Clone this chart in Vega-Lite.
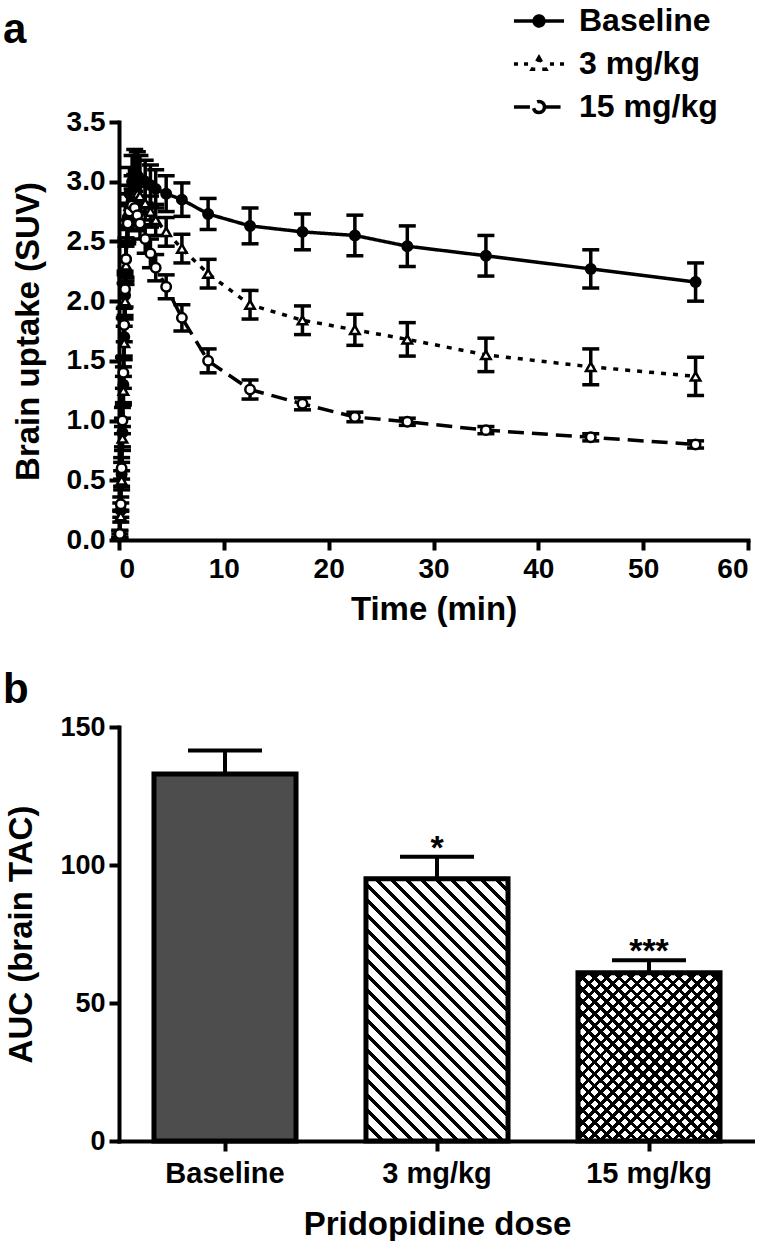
{
  "$schema": "https://vega.github.io/schema/vega-lite/v6.json",
  "background": "white",
  "padding": {"left": 3, "top": 4, "right": 0, "bottom": 0},
  "config": {
    "font": "Liberation Sans",
    "view": {"stroke": null},
    "axis": {"domainColor": "black", "domainWidth": 4, "domainCap": "square", "tickColor": "black", "tickWidth": 4, "tickSize": 10, "labelColor": "black", "titleColor": "black", "labelFontWeight": "bold", "titleFontWeight": "bold", "grid": false, "labelFontSize": 27, "titleFontSize": 33, "labelPadding": 4},
    "title": {"fontSize": 42, "fontWeight": "bold", "color": "black"},
    "concat": {"spacing": 43}
  },
  "vconcat": [
    {
      "width": 629,
      "height": 418,
      "title": {"text": "a", "anchor": "start", "frame": "group", "dx": -116, "offset": 56},
      "data": {"values": [
        {"s":"Baseline","t":0.08,"v":0.05,"lo":0.02,"hi":0.08},
        {"s":"Baseline","t":0.17,"v":0.25,"lo":0.19,"hi":0.31},
        {"s":"Baseline","t":0.25,"v":0.55,"lo":0.45,"hi":0.65},
        {"s":"Baseline","t":0.33,"v":0.9,"lo":0.78,"hi":1.02},
        {"s":"Baseline","t":0.42,"v":1.3,"lo":1.15,"hi":1.45},
        {"s":"Baseline","t":0.5,"v":1.7,"lo":1.54,"hi":1.86},
        {"s":"Baseline","t":0.58,"v":2.05,"lo":1.88,"hi":2.22},
        {"s":"Baseline","t":0.67,"v":2.35,"lo":2.17,"hi":2.53},
        {"s":"Baseline","t":0.83,"v":2.7,"lo":2.5,"hi":2.9},
        {"s":"Baseline","t":1.0,"v":2.9,"lo":2.68,"hi":3.12},
        {"s":"Baseline","t":1.25,"v":3.0,"lo":2.78,"hi":3.22},
        {"s":"Baseline","t":1.5,"v":3.05,"lo":2.83,"hi":3.27},
        {"s":"Baseline","t":1.75,"v":3.05,"lo":2.85,"hi":3.25},
        {"s":"Baseline","t":2.0,"v":3.02,"lo":2.82,"hi":3.22},
        {"s":"Baseline","t":2.5,"v":3.0,"lo":2.82,"hi":3.18},
        {"s":"Baseline","t":3.0,"v":2.97,"lo":2.8,"hi":3.14},
        {"s":"Baseline","t":3.5,"v":2.94,"lo":2.78,"hi":3.1},
        {"s":"Baseline","t":4.5,"v":2.9,"lo":2.75,"hi":3.05},
        {"s":"Baseline","t":6,"v":2.85,"lo":2.71,"hi":2.99},
        {"s":"Baseline","t":8.5,"v":2.73,"lo":2.6,"hi":2.86},
        {"s":"Baseline","t":12.5,"v":2.63,"lo":2.48,"hi":2.78},
        {"s":"Baseline","t":17.5,"v":2.58,"lo":2.43,"hi":2.73},
        {"s":"Baseline","t":22.5,"v":2.55,"lo":2.38,"hi":2.72},
        {"s":"Baseline","t":27.5,"v":2.46,"lo":2.29,"hi":2.63},
        {"s":"Baseline","t":35,"v":2.38,"lo":2.21,"hi":2.55},
        {"s":"Baseline","t":45,"v":2.27,"lo":2.11,"hi":2.43},
        {"s":"Baseline","t":55,"v":2.16,"lo":2.0,"hi":2.32},
        {"s":"3 mg/kg","t":0.08,"v":0.03,"lo":0.01,"hi":0.05},
        {"s":"3 mg/kg","t":0.17,"v":0.2,"lo":0.15,"hi":0.25},
        {"s":"3 mg/kg","t":0.25,"v":0.5,"lo":0.42,"hi":0.58},
        {"s":"3 mg/kg","t":0.33,"v":0.85,"lo":0.75,"hi":0.95},
        {"s":"3 mg/kg","t":0.42,"v":1.25,"lo":1.13,"hi":1.37},
        {"s":"3 mg/kg","t":0.5,"v":1.65,"lo":1.51,"hi":1.79},
        {"s":"3 mg/kg","t":0.58,"v":2.0,"lo":1.85,"hi":2.15},
        {"s":"3 mg/kg","t":0.67,"v":2.3,"lo":2.14,"hi":2.46},
        {"s":"3 mg/kg","t":0.83,"v":2.65,"lo":2.48,"hi":2.82},
        {"s":"3 mg/kg","t":1.0,"v":2.8,"lo":2.63,"hi":2.97},
        {"s":"3 mg/kg","t":1.25,"v":2.88,"lo":2.71,"hi":3.05},
        {"s":"3 mg/kg","t":1.5,"v":2.9,"lo":2.74,"hi":3.06},
        {"s":"3 mg/kg","t":1.75,"v":2.9,"lo":2.75,"hi":3.05},
        {"s":"3 mg/kg","t":2.0,"v":2.88,"lo":2.73,"hi":3.03},
        {"s":"3 mg/kg","t":2.5,"v":2.82,"lo":2.68,"hi":2.96},
        {"s":"3 mg/kg","t":3.0,"v":2.75,"lo":2.62,"hi":2.88},
        {"s":"3 mg/kg","t":3.5,"v":2.68,"lo":2.55,"hi":2.81},
        {"s":"3 mg/kg","t":4.5,"v":2.58,"lo":2.46,"hi":2.7},
        {"s":"3 mg/kg","t":6,"v":2.44,"lo":2.32,"hi":2.56},
        {"s":"3 mg/kg","t":8.5,"v":2.23,"lo":2.11,"hi":2.35},
        {"s":"3 mg/kg","t":12.5,"v":1.97,"lo":1.85,"hi":2.09},
        {"s":"3 mg/kg","t":17.5,"v":1.84,"lo":1.72,"hi":1.96},
        {"s":"3 mg/kg","t":22.5,"v":1.76,"lo":1.63,"hi":1.89},
        {"s":"3 mg/kg","t":27.5,"v":1.68,"lo":1.54,"hi":1.82},
        {"s":"3 mg/kg","t":35,"v":1.55,"lo":1.41,"hi":1.69},
        {"s":"3 mg/kg","t":45,"v":1.45,"lo":1.3,"hi":1.6},
        {"s":"3 mg/kg","t":55,"v":1.37,"lo":1.21,"hi":1.53},
        {"s":"15 mg/kg","t":0.08,"v":0.05,"lo":0.02,"hi":0.08},
        {"s":"15 mg/kg","t":0.17,"v":0.3,"lo":0.24,"hi":0.36},
        {"s":"15 mg/kg","t":0.25,"v":0.6,"lo":0.51,"hi":0.69},
        {"s":"15 mg/kg","t":0.33,"v":1.0,"lo":0.89,"hi":1.11},
        {"s":"15 mg/kg","t":0.42,"v":1.4,"lo":1.27,"hi":1.53},
        {"s":"15 mg/kg","t":0.5,"v":1.8,"lo":1.66,"hi":1.94},
        {"s":"15 mg/kg","t":0.58,"v":2.1,"lo":1.95,"hi":2.25},
        {"s":"15 mg/kg","t":0.67,"v":2.35,"lo":2.2,"hi":2.5},
        {"s":"15 mg/kg","t":0.83,"v":2.65,"lo":2.5,"hi":2.8},
        {"s":"15 mg/kg","t":1.0,"v":2.75,"lo":2.6,"hi":2.9},
        {"s":"15 mg/kg","t":1.25,"v":2.8,"lo":2.66,"hi":2.94},
        {"s":"15 mg/kg","t":1.5,"v":2.78,"lo":2.64,"hi":2.92},
        {"s":"15 mg/kg","t":1.75,"v":2.72,"lo":2.59,"hi":2.85},
        {"s":"15 mg/kg","t":2.0,"v":2.65,"lo":2.52,"hi":2.78},
        {"s":"15 mg/kg","t":2.5,"v":2.52,"lo":2.4,"hi":2.64},
        {"s":"15 mg/kg","t":3.0,"v":2.4,"lo":2.28,"hi":2.52},
        {"s":"15 mg/kg","t":3.5,"v":2.28,"lo":2.17,"hi":2.39},
        {"s":"15 mg/kg","t":4.5,"v":2.12,"lo":2.02,"hi":2.22},
        {"s":"15 mg/kg","t":6,"v":1.86,"lo":1.75,"hi":1.97},
        {"s":"15 mg/kg","t":8.5,"v":1.5,"lo":1.4,"hi":1.6},
        {"s":"15 mg/kg","t":12.5,"v":1.26,"lo":1.18,"hi":1.34},
        {"s":"15 mg/kg","t":17.5,"v":1.14,"lo":1.09,"hi":1.19},
        {"s":"15 mg/kg","t":22.5,"v":1.03,"lo":0.99,"hi":1.07},
        {"s":"15 mg/kg","t":27.5,"v":0.99,"lo":0.96,"hi":1.02},
        {"s":"15 mg/kg","t":35,"v":0.92,"lo":0.89,"hi":0.95},
        {"s":"15 mg/kg","t":45,"v":0.86,"lo":0.83,"hi":0.89},
        {"s":"15 mg/kg","t":55,"v":0.8,"lo":0.77,"hi":0.83}
      ]},
      "encoding": {
        "x": {"field": "t", "type": "quantitative", "scale": {"domain": [0, 60], "nice": false},
              "axis": {"values": [0, 10, 20, 30, 40, 50, 60], "title": "Time (min)", "labelFontSize": 28, "labelPadding": 5, "titlePadding": 10}}
      },
      "layer": [
        {
          "mark": {"type": "line", "strokeWidth": 3.5, "color": "black"},
          "encoding": {
            "y": {"field": "v", "type": "quantitative", "scale": {"domain": [0, 3.5], "nice": false}, "title": "Brain uptake (SUV)",
                  "axis": {"values": [0, 0.5, 1, 1.5, 2, 2.5, 3, 3.5], "format": ".1f", "labelFontSize": 28, "titlePadding": 21}},
            "strokeDash": {"field": "s", "type": "nominal",
              "scale": {"domain": ["Baseline", "3 mg/kg", "15 mg/kg"], "range": [[1, 0], [5, 7], [16, 8]]},
              "legend": {"orient": "none", "legendX": 403, "legendY": -118, "title": null, "labelFontSize": 32, "labelFontWeight": "bold", "labelColor": "black", "symbolSize": 900, "symbolStrokeWidth": 3.5, "symbolStrokeColor": "black", "labelOffset": 23, "rowPadding": 10,
                "encode": {"symbols": {"update": {
                  "shape": {"signal": "datum.value === 'Baseline' ? 'M-1.67,0H1.67M0.33,0C0.33,0.18 0.18,0.33 0,0.33C-0.18,0.33 -0.33,0.18 -0.33,0C-0.33,-0.18 -0.18,-0.33 0,-0.33C0.18,-0.33 0.33,-0.18 0.33,0Z' : datum.value === '3 mg/kg' ? 'M-1.67,0H-1.4M-1.0,0H-0.73M0.73,0H1.0M1.4,0H1.67M0,-0.43L0.45,0.35L-0.45,0.35Z' : 'M-1.67,0H-0.37M0.37,0H1.67M0.37,0C0.37,0.2 0.2,0.37 0,0.37C-0.2,0.37 -0.37,0.2 -0.37,0C-0.37,-0.2 -0.2,-0.37 0,-0.37C0.2,-0.37 0.37,-0.2 0.37,0Z'"},
                  "fill": {"signal": "datum.value === 'Baseline' ? 'black' : 'white'"},
                  "stroke": {"value": "black"},
                  "strokeDash": {"value": []}
                }}}}
            }
          }
        },
        {
          "mark": {"type": "rule", "strokeWidth": 3.5, "color": "black"},
          "encoding": {"y": {"field": "lo", "type": "quantitative", "title": "Brain uptake (SUV)"}, "y2": {"field": "hi"}}
        },
        {
          "mark": {"type": "tick", "orient": "horizontal", "size": 17, "thickness": 3.5, "color": "black", "opacity": 1},
          "encoding": {"y": {"field": "hi", "type": "quantitative", "title": "Brain uptake (SUV)"}}
        },
        {
          "mark": {"type": "tick", "orient": "horizontal", "size": 17, "thickness": 3.5, "color": "black", "opacity": 1},
          "encoding": {"y": {"field": "lo", "type": "quantitative", "title": "Brain uptake (SUV)"}}
        },
        {
          "mark": {"type": "point", "stroke": "black", "strokeWidth": 2.5, "opacity": 1, "fillOpacity": 1, "size": 90},
          "encoding": {
            "y": {"field": "v", "type": "quantitative", "title": "Brain uptake (SUV)"},
            "shape": {"condition": {"test": "datum.s === '3 mg/kg'", "value": "triangle-up"}, "value": "circle"},
            "fill": {"condition": {"test": "datum.s === 'Baseline'", "value": "black"}, "value": "white"}
          }
        }
      ]
    },
    {
      "width": 636,
      "height": 414,
      "title": {"text": "b", "anchor": "start", "frame": "group", "dx": -116, "offset": 1},
      "data": {"values": [
        {"dose": "Baseline", "auc": 133, "hi": 141.5, "star": ""},
        {"dose": "3 mg/kg", "auc": 95, "hi": 103, "star": "*"},
        {"dose": "15 mg/kg", "auc": 61, "hi": 65.5, "star": "***"}
      ]},
      "encoding": {
        "x": {"field": "dose", "type": "nominal", "sort": ["Baseline", "3 mg/kg", "15 mg/kg"],
              "scale": {"paddingInner": 0.33, "paddingOuter": 0.165},
              "axis": {"title": "Pridopidine dose", "labelAngle": 0, "labelFontSize": 29, "labelPadding": 8, "titlePadding": 20}}
      },
      "layer": [
        {
          "mark": {"type": "rule", "strokeWidth": 4, "color": "black"},
          "encoding": {
            "y": {"field": "auc", "type": "quantitative", "scale": {"domain": [0, 150], "nice": false}, "title": "AUC (brain TAC)",
                  "axis": {"values": [0, 50, 100, 150], "labelFontSize": 27, "titlePadding": 21}},
            "y2": {"field": "hi"}
          }
        },
        {
          "mark": {"type": "tick", "orient": "horizontal", "size": 74, "thickness": 4, "color": "black", "opacity": 1},
          "encoding": {"y": {"field": "hi", "type": "quantitative", "title": "AUC (brain TAC)"}}
        },
        {
          "transform": [{"filter": "datum.dose === 'Baseline'"}],
          "mark": {"type": "bar", "fill": "#4d4d4d", "stroke": "black", "strokeWidth": 5},
          "encoding": {"y": {"field": "auc", "type": "quantitative", "title": "AUC (brain TAC)"}}
        },
        {
          "transform": [{"filter": "datum.dose === '3 mg/kg'"}],
          "mark": {"type": "bar", "stroke": "black", "strokeWidth": 5,
            "fill": {"gradient": "linear", "x1": 1, "y1": 0, "x2": 0.252, "y2": 1.381, "stops": [
              {"offset":0,"color":"#fff"},{"offset":0.021,"color":"#fff"},{"offset":0.021,"color":"#000"},{"offset":0.032,"color":"#000"},
              {"offset":0.032,"color":"#fff"},{"offset":0.053,"color":"#fff"},{"offset":0.053,"color":"#000"},{"offset":0.064,"color":"#000"},
              {"offset":0.064,"color":"#fff"},{"offset":0.085,"color":"#fff"},{"offset":0.085,"color":"#000"},{"offset":0.096,"color":"#000"},
              {"offset":0.096,"color":"#fff"},{"offset":0.117,"color":"#fff"},{"offset":0.117,"color":"#000"},{"offset":0.128,"color":"#000"},
              {"offset":0.128,"color":"#fff"},{"offset":0.149,"color":"#fff"},{"offset":0.149,"color":"#000"},{"offset":0.16,"color":"#000"},
              {"offset":0.16,"color":"#fff"},{"offset":0.181,"color":"#fff"},{"offset":0.181,"color":"#000"},{"offset":0.192,"color":"#000"},
              {"offset":0.192,"color":"#fff"},{"offset":0.213,"color":"#fff"},{"offset":0.213,"color":"#000"},{"offset":0.224,"color":"#000"},
              {"offset":0.224,"color":"#fff"},{"offset":0.245,"color":"#fff"},{"offset":0.245,"color":"#000"},{"offset":0.256,"color":"#000"},
              {"offset":0.256,"color":"#fff"},{"offset":0.277,"color":"#fff"},{"offset":0.277,"color":"#000"},{"offset":0.288,"color":"#000"},
              {"offset":0.288,"color":"#fff"},{"offset":0.309,"color":"#fff"},{"offset":0.309,"color":"#000"},{"offset":0.32,"color":"#000"},
              {"offset":0.32,"color":"#fff"},{"offset":0.341,"color":"#fff"},{"offset":0.341,"color":"#000"},{"offset":0.352,"color":"#000"},
              {"offset":0.352,"color":"#fff"},{"offset":0.373,"color":"#fff"},{"offset":0.373,"color":"#000"},{"offset":0.384,"color":"#000"},
              {"offset":0.384,"color":"#fff"},{"offset":0.405,"color":"#fff"},{"offset":0.405,"color":"#000"},{"offset":0.416,"color":"#000"},
              {"offset":0.416,"color":"#fff"},{"offset":0.437,"color":"#fff"},{"offset":0.437,"color":"#000"},{"offset":0.448,"color":"#000"},
              {"offset":0.448,"color":"#fff"},{"offset":0.469,"color":"#fff"},{"offset":0.469,"color":"#000"},{"offset":0.48,"color":"#000"},
              {"offset":0.48,"color":"#fff"},{"offset":0.501,"color":"#fff"},{"offset":0.501,"color":"#000"},{"offset":0.512,"color":"#000"},
              {"offset":0.512,"color":"#fff"},{"offset":0.533,"color":"#fff"},{"offset":0.533,"color":"#000"},{"offset":0.544,"color":"#000"},
              {"offset":0.544,"color":"#fff"},{"offset":0.565,"color":"#fff"},{"offset":0.565,"color":"#000"},{"offset":0.576,"color":"#000"},
              {"offset":0.576,"color":"#fff"},{"offset":0.597,"color":"#fff"},{"offset":0.597,"color":"#000"},{"offset":0.608,"color":"#000"},
              {"offset":0.608,"color":"#fff"},{"offset":0.629,"color":"#fff"},{"offset":0.629,"color":"#000"},{"offset":0.64,"color":"#000"},
              {"offset":0.64,"color":"#fff"},{"offset":0.661,"color":"#fff"},{"offset":0.661,"color":"#000"},{"offset":0.672,"color":"#000"},
              {"offset":0.672,"color":"#fff"},{"offset":0.693,"color":"#fff"},{"offset":0.693,"color":"#000"},{"offset":0.704,"color":"#000"},
              {"offset":0.704,"color":"#fff"},{"offset":0.725,"color":"#fff"},{"offset":0.725,"color":"#000"},{"offset":0.736,"color":"#000"},
              {"offset":0.736,"color":"#fff"},{"offset":0.757,"color":"#fff"},{"offset":0.757,"color":"#000"},{"offset":0.768,"color":"#000"},
              {"offset":0.768,"color":"#fff"},{"offset":0.789,"color":"#fff"},{"offset":0.789,"color":"#000"},{"offset":0.8,"color":"#000"},
              {"offset":0.8,"color":"#fff"},{"offset":0.821,"color":"#fff"},{"offset":0.821,"color":"#000"},{"offset":0.832,"color":"#000"},
              {"offset":0.832,"color":"#fff"},{"offset":0.853,"color":"#fff"},{"offset":0.853,"color":"#000"},{"offset":0.864,"color":"#000"},
              {"offset":0.864,"color":"#fff"},{"offset":0.885,"color":"#fff"},{"offset":0.885,"color":"#000"},{"offset":0.896,"color":"#000"},
              {"offset":0.896,"color":"#fff"},{"offset":1,"color":"#fff"}
            ]}},
          "encoding": {"y": {"field": "auc", "type": "quantitative", "title": "AUC (brain TAC)"}}
        },
        {
          "transform": [{"filter": "datum.dose === '15 mg/kg'"}],
          "mark": {"type": "bar", "strokeWidth": 0,
            "fill": {"gradient": "linear", "x1": 1, "y1": 0, "x2": 0.048, "y2": 1.129, "stops": [
              {"offset":0,"color":"#fff"},{"offset":0.024,"color":"#fff"},{"offset":0.024,"color":"#000"},{"offset":0.037,"color":"#000"},
              {"offset":0.037,"color":"#fff"},{"offset":0.061,"color":"#fff"},{"offset":0.061,"color":"#000"},{"offset":0.074,"color":"#000"},
              {"offset":0.074,"color":"#fff"},{"offset":0.098,"color":"#fff"},{"offset":0.098,"color":"#000"},{"offset":0.111,"color":"#000"},
              {"offset":0.111,"color":"#fff"},{"offset":0.135,"color":"#fff"},{"offset":0.135,"color":"#000"},{"offset":0.148,"color":"#000"},
              {"offset":0.148,"color":"#fff"},{"offset":0.172,"color":"#fff"},{"offset":0.172,"color":"#000"},{"offset":0.185,"color":"#000"},
              {"offset":0.185,"color":"#fff"},{"offset":0.209,"color":"#fff"},{"offset":0.209,"color":"#000"},{"offset":0.222,"color":"#000"},
              {"offset":0.222,"color":"#fff"},{"offset":0.246,"color":"#fff"},{"offset":0.246,"color":"#000"},{"offset":0.259,"color":"#000"},
              {"offset":0.259,"color":"#fff"},{"offset":0.283,"color":"#fff"},{"offset":0.283,"color":"#000"},{"offset":0.296,"color":"#000"},
              {"offset":0.296,"color":"#fff"},{"offset":0.32,"color":"#fff"},{"offset":0.32,"color":"#000"},{"offset":0.333,"color":"#000"},
              {"offset":0.333,"color":"#fff"},{"offset":0.357,"color":"#fff"},{"offset":0.357,"color":"#000"},{"offset":0.37,"color":"#000"},
              {"offset":0.37,"color":"#fff"},{"offset":0.394,"color":"#fff"},{"offset":0.394,"color":"#000"},{"offset":0.407,"color":"#000"},
              {"offset":0.407,"color":"#fff"},{"offset":0.431,"color":"#fff"},{"offset":0.431,"color":"#000"},{"offset":0.444,"color":"#000"},
              {"offset":0.444,"color":"#fff"},{"offset":0.468,"color":"#fff"},{"offset":0.468,"color":"#000"},{"offset":0.481,"color":"#000"},
              {"offset":0.481,"color":"#fff"},{"offset":0.505,"color":"#fff"},{"offset":0.505,"color":"#000"},{"offset":0.518,"color":"#000"},
              {"offset":0.518,"color":"#fff"},{"offset":0.542,"color":"#fff"},{"offset":0.542,"color":"#000"},{"offset":0.555,"color":"#000"},
              {"offset":0.555,"color":"#fff"},{"offset":0.579,"color":"#fff"},{"offset":0.579,"color":"#000"},{"offset":0.592,"color":"#000"},
              {"offset":0.592,"color":"#fff"},{"offset":0.616,"color":"#fff"},{"offset":0.616,"color":"#000"},{"offset":0.629,"color":"#000"},
              {"offset":0.629,"color":"#fff"},{"offset":0.653,"color":"#fff"},{"offset":0.653,"color":"#000"},{"offset":0.666,"color":"#000"},
              {"offset":0.666,"color":"#fff"},{"offset":0.69,"color":"#fff"},{"offset":0.69,"color":"#000"},{"offset":0.703,"color":"#000"},
              {"offset":0.703,"color":"#fff"},{"offset":0.727,"color":"#fff"},{"offset":0.727,"color":"#000"},{"offset":0.74,"color":"#000"},
              {"offset":0.74,"color":"#fff"},{"offset":0.764,"color":"#fff"},{"offset":0.764,"color":"#000"},{"offset":0.777,"color":"#000"},
              {"offset":0.777,"color":"#fff"},{"offset":0.801,"color":"#fff"},{"offset":0.801,"color":"#000"},{"offset":0.814,"color":"#000"},
              {"offset":0.814,"color":"#fff"},{"offset":0.838,"color":"#fff"},{"offset":0.838,"color":"#000"},{"offset":0.851,"color":"#000"},
              {"offset":0.851,"color":"#fff"},{"offset":0.875,"color":"#fff"},{"offset":0.875,"color":"#000"},{"offset":0.888,"color":"#000"},
              {"offset":0.888,"color":"#fff"},{"offset":0.912,"color":"#fff"},{"offset":0.912,"color":"#000"},{"offset":0.925,"color":"#000"},
              {"offset":0.925,"color":"#fff"},{"offset":0.949,"color":"#fff"},{"offset":0.949,"color":"#000"},{"offset":0.962,"color":"#000"},
              {"offset":0.962,"color":"#fff"},{"offset":0.986,"color":"#fff"},{"offset":0.986,"color":"#000"},{"offset":1,"color":"#000"}
            ]}},
          "encoding": {"y": {"field": "auc", "type": "quantitative", "title": "AUC (brain TAC)"}}
        },
        {
          "transform": [{"filter": "datum.dose === '15 mg/kg'"}],
          "mark": {"type": "bar", "stroke": "black", "strokeWidth": 5,
            "fill": {"gradient": "linear", "x1": 0, "y1": 0, "x2": 0.952, "y2": 1.129, "stops": [
              {"offset":0,"color":"rgba(0,0,0,0)"},{"offset":0.024,"color":"rgba(0,0,0,0)"},{"offset":0.024,"color":"#000"},{"offset":0.037,"color":"#000"},
              {"offset":0.037,"color":"rgba(0,0,0,0)"},{"offset":0.061,"color":"rgba(0,0,0,0)"},{"offset":0.061,"color":"#000"},{"offset":0.074,"color":"#000"},
              {"offset":0.074,"color":"rgba(0,0,0,0)"},{"offset":0.098,"color":"rgba(0,0,0,0)"},{"offset":0.098,"color":"#000"},{"offset":0.111,"color":"#000"},
              {"offset":0.111,"color":"rgba(0,0,0,0)"},{"offset":0.135,"color":"rgba(0,0,0,0)"},{"offset":0.135,"color":"#000"},{"offset":0.148,"color":"#000"},
              {"offset":0.148,"color":"rgba(0,0,0,0)"},{"offset":0.172,"color":"rgba(0,0,0,0)"},{"offset":0.172,"color":"#000"},{"offset":0.185,"color":"#000"},
              {"offset":0.185,"color":"rgba(0,0,0,0)"},{"offset":0.209,"color":"rgba(0,0,0,0)"},{"offset":0.209,"color":"#000"},{"offset":0.222,"color":"#000"},
              {"offset":0.222,"color":"rgba(0,0,0,0)"},{"offset":0.246,"color":"rgba(0,0,0,0)"},{"offset":0.246,"color":"#000"},{"offset":0.259,"color":"#000"},
              {"offset":0.259,"color":"rgba(0,0,0,0)"},{"offset":0.283,"color":"rgba(0,0,0,0)"},{"offset":0.283,"color":"#000"},{"offset":0.296,"color":"#000"},
              {"offset":0.296,"color":"rgba(0,0,0,0)"},{"offset":0.32,"color":"rgba(0,0,0,0)"},{"offset":0.32,"color":"#000"},{"offset":0.333,"color":"#000"},
              {"offset":0.333,"color":"rgba(0,0,0,0)"},{"offset":0.357,"color":"rgba(0,0,0,0)"},{"offset":0.357,"color":"#000"},{"offset":0.37,"color":"#000"},
              {"offset":0.37,"color":"rgba(0,0,0,0)"},{"offset":0.394,"color":"rgba(0,0,0,0)"},{"offset":0.394,"color":"#000"},{"offset":0.407,"color":"#000"},
              {"offset":0.407,"color":"rgba(0,0,0,0)"},{"offset":0.431,"color":"rgba(0,0,0,0)"},{"offset":0.431,"color":"#000"},{"offset":0.444,"color":"#000"},
              {"offset":0.444,"color":"rgba(0,0,0,0)"},{"offset":0.468,"color":"rgba(0,0,0,0)"},{"offset":0.468,"color":"#000"},{"offset":0.481,"color":"#000"},
              {"offset":0.481,"color":"rgba(0,0,0,0)"},{"offset":0.505,"color":"rgba(0,0,0,0)"},{"offset":0.505,"color":"#000"},{"offset":0.518,"color":"#000"},
              {"offset":0.518,"color":"rgba(0,0,0,0)"},{"offset":0.542,"color":"rgba(0,0,0,0)"},{"offset":0.542,"color":"#000"},{"offset":0.555,"color":"#000"},
              {"offset":0.555,"color":"rgba(0,0,0,0)"},{"offset":0.579,"color":"rgba(0,0,0,0)"},{"offset":0.579,"color":"#000"},{"offset":0.592,"color":"#000"},
              {"offset":0.592,"color":"rgba(0,0,0,0)"},{"offset":0.616,"color":"rgba(0,0,0,0)"},{"offset":0.616,"color":"#000"},{"offset":0.629,"color":"#000"},
              {"offset":0.629,"color":"rgba(0,0,0,0)"},{"offset":0.653,"color":"rgba(0,0,0,0)"},{"offset":0.653,"color":"#000"},{"offset":0.666,"color":"#000"},
              {"offset":0.666,"color":"rgba(0,0,0,0)"},{"offset":0.69,"color":"rgba(0,0,0,0)"},{"offset":0.69,"color":"#000"},{"offset":0.703,"color":"#000"},
              {"offset":0.703,"color":"rgba(0,0,0,0)"},{"offset":0.727,"color":"rgba(0,0,0,0)"},{"offset":0.727,"color":"#000"},{"offset":0.74,"color":"#000"},
              {"offset":0.74,"color":"rgba(0,0,0,0)"},{"offset":0.764,"color":"rgba(0,0,0,0)"},{"offset":0.764,"color":"#000"},{"offset":0.777,"color":"#000"},
              {"offset":0.777,"color":"rgba(0,0,0,0)"},{"offset":0.801,"color":"rgba(0,0,0,0)"},{"offset":0.801,"color":"#000"},{"offset":0.814,"color":"#000"},
              {"offset":0.814,"color":"rgba(0,0,0,0)"},{"offset":0.838,"color":"rgba(0,0,0,0)"},{"offset":0.838,"color":"#000"},{"offset":0.851,"color":"#000"},
              {"offset":0.851,"color":"rgba(0,0,0,0)"},{"offset":0.875,"color":"rgba(0,0,0,0)"},{"offset":0.875,"color":"#000"},{"offset":0.888,"color":"#000"},
              {"offset":0.888,"color":"rgba(0,0,0,0)"},{"offset":0.912,"color":"rgba(0,0,0,0)"},{"offset":0.912,"color":"#000"},{"offset":0.925,"color":"#000"},
              {"offset":0.925,"color":"rgba(0,0,0,0)"},{"offset":0.949,"color":"rgba(0,0,0,0)"},{"offset":0.949,"color":"#000"},{"offset":0.962,"color":"#000"},
              {"offset":0.962,"color":"rgba(0,0,0,0)"},{"offset":0.986,"color":"rgba(0,0,0,0)"},{"offset":0.986,"color":"#000"},{"offset":1,"color":"#000"}
            ]}},
          "encoding": {"y": {"field": "auc", "type": "quantitative", "title": "AUC (brain TAC)"}}
        },
        {
          "mark": {"type": "text", "fontSize": 34, "fontWeight": "bold", "baseline": "alphabetic", "dy": 2, "color": "black"},
          "encoding": {"y": {"field": "hi", "type": "quantitative", "title": "AUC (brain TAC)"}, "text": {"field": "star"}}
        }
      ]
    }
  ]
}
